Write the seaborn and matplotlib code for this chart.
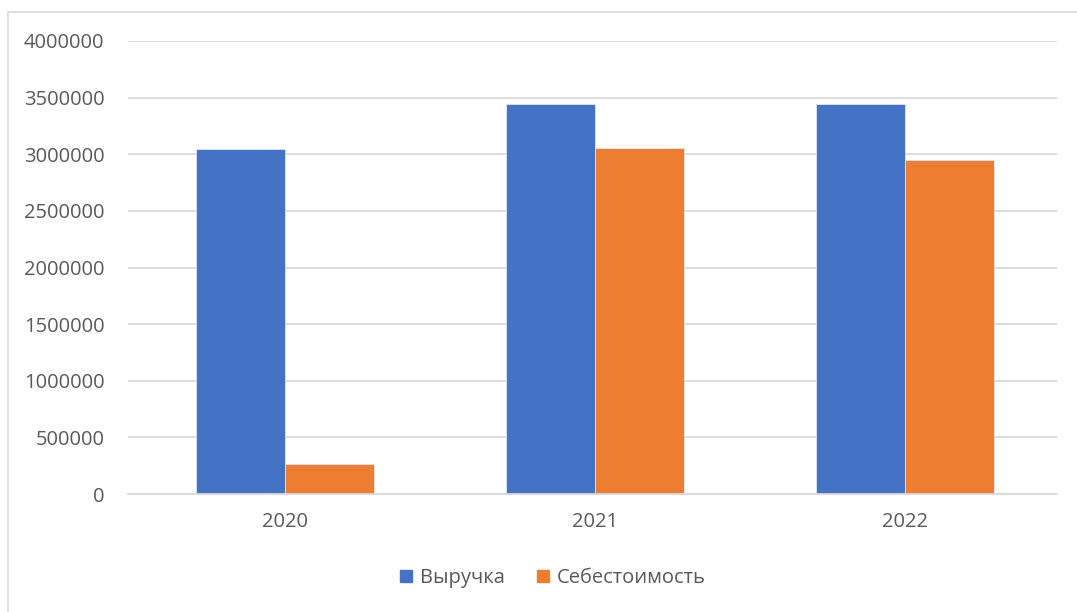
import numpy as np
import pandas as pd
import matplotlib
matplotlib.use('Agg')
import matplotlib.pyplot as plt
import matplotlib.patches as mpatches
import seaborn as sns

years=['2020','2021','2022']
revenue=[3050000,3440000,3440000]
cost=[265000,3057000,2945000]
series_names=['Выручка','Себестоимость']
yticks=[0,500000,1000000,1500000,2000000,2500000,3000000,3500000,4000000]

df=pd.DataFrame({'year':years*2,
                 'value':revenue+cost,
                 'series':[series_names[0]]*3+[series_names[1]]*3})

sns.set_style('white')
plt.rcParams['font.family']=['Open Sans','DejaVu Sans']
txt_col='#595959'
fs=14.5

fig=plt.figure(figsize=(10.77,6.12),dpi=100)
ax=fig.add_axes([128/1077,1-494/612,(1057-128)/1077,(494-41)/612])

sns.barplot(data=df,x='year',y='value',hue='series',palette=['#4472C4','#ED7D31'],
            width=0.575,gap=0,saturation=1,ax=ax,legend=True,linewidth=0.6,edgecolor='#dfe6f3')

ax.set_ylim(0,4000000)
ax.set_xlim(-0.508,2.492)
ax.set_yticks(yticks)
ax.set_yticklabels([str(v) for v in yticks])
ax.set_xlabel('')
ax.set_ylabel('')
ax.grid(axis='y',color='#d9d9d9',linewidth=1.3)
ax.set_axisbelow(True)
for s in ['top','right','left']:
    ax.spines[s].set_visible(False)
ax.spines['bottom'].set_color('#d9d9d9')
ax.spines['bottom'].set_linewidth(1.3)
ax.tick_params(axis='both',length=0,colors=txt_col,labelsize=fs)
ax.tick_params(axis='y',pad=17)
ax.tick_params(axis='x',pad=13)

ax.legend_.remove()
handles=[mpatches.Patch(color=c) for c in ['#4472C4','#ED7D31']]
fig.legend(handles,series_names,loc='center',bbox_to_anchor=(553/1077,1-578/612),ncol=2,
           frameon=False,fontsize=fs,labelcolor=txt_col,handlelength=0.6,handleheight=0.6,
           handletextpad=0.4,columnspacing=1.6)

# outer chart border, cut off on right and bottom
fig.patches.append(mpatches.Rectangle((8/1077,-0.1),1.2,1-12/612+0.1,transform=fig.transFigure,
                                      fill=False,edgecolor='#d9d9d9',linewidth=1.2))

plt.savefig('out.png',dpi=100)
plt.close()
